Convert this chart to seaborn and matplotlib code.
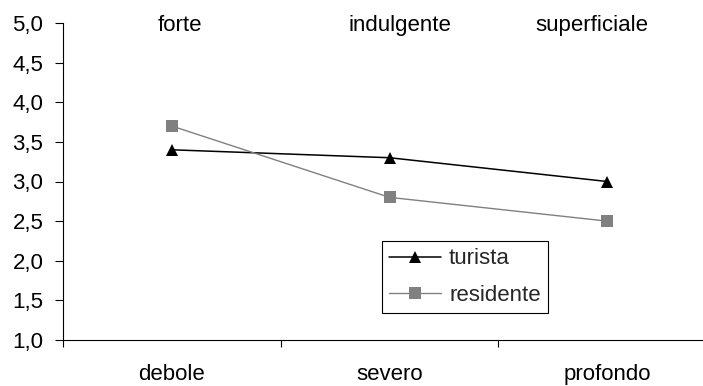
import matplotlib
matplotlib.use("Agg")
import matplotlib.pyplot as plt
import seaborn as sns
import pandas as pd
from matplotlib.ticker import FixedLocator, FuncFormatter

bottom_labels = ["debole", "severo", "profondo"]
top_labels = ["forte", "indulgente", "superficiale"]
turista = [3.4, 3.3, 3.0]
residente = [3.7, 2.8, 2.5]
y_ticks = [1.0, 1.5, 2.0, 2.5, 3.0, 3.5, 4.0, 4.5, 5.0]

sns.set_style("white")
plt.rcParams['font.family'] = ['Liberation Sans', 'DejaVu Sans']
FS = 16

fig = plt.figure(figsize=(7.03, 3.86), dpi=100)
ax = fig.add_axes([63/703, 1-340/386, 653/703, 317/386])

pos = list(range(len(bottom_labels)))
df_t = pd.DataFrame({"x": pos, "y": turista})
df_r = pd.DataFrame({"x": pos, "y": residente})

sns.lineplot(data=df_t, x="x", y="y", ax=ax, color="black", marker="^",
             markersize=8.8, markeredgewidth=0, linewidth=1.1, label="turista")
sns.lineplot(data=df_r, x="x", y="y", ax=ax, color="#808080", marker="s",
             markersize=8.8, markeredgewidth=0, linewidth=1.0, label="residente")

ax.set_xlim(-0.5, len(bottom_labels) - 0.5)
ax.set_ylim(1.0, 5.0)
ax.set_xlabel("")
ax.set_ylabel("")

ax.xaxis.set_major_locator(FixedLocator([p - 0.5 for p in pos]))
ax.xaxis.set_major_formatter(FuncFormatter(lambda v, p: ""))
ax.xaxis.set_minor_locator(FixedLocator(pos))
ax.set_xticklabels(bottom_labels, minor=True)
ax.tick_params(axis="x", which="major", direction="out", length=5, width=0.8,
               color="black", bottom=True)
ax.tick_params(axis="x", which="minor", length=0, pad=17.5, labelsize=FS,
               labelcolor="black")

ax.set_yticks(y_ticks)
ax.yaxis.set_major_formatter(FuncFormatter(lambda v, p: f"{v:.1f}".replace(".", ",")))
ax.tick_params(axis="y", direction="out", length=5.7, width=0.8, color="black",
               left=True, labelsize=FS, labelcolor="black", pad=8.5)

# top labels sit on the 5,0 line, slightly shifted as in the original text boxes
top_offsets = [0.035, 0.05, -0.07]
for p, off, lab in zip(pos, top_offsets, top_labels):
    ax.text(p + off, 5.0, lab, ha="center", va="center_baseline", fontsize=FS,
            color="black", clip_on=False)

for s in ["top", "right"]:
    ax.spines[s].set_visible(False)
for s in ["left", "bottom"]:
    ax.spines[s].set_color("black")
    ax.spines[s].set_linewidth(0.8)

leg = ax.legend(loc="lower left", bbox_to_anchor=(382/703, 1-313/386),
                bbox_transform=fig.transFigure, frameon=True, fancybox=False,
                handlelength=2.35, borderpad=0.32, labelspacing=0.7,
                handletextpad=0.35, fontsize=FS, borderaxespad=0)
leg.get_frame().set_edgecolor("black")
leg.get_frame().set_linewidth(0.8)
leg.get_frame().set_alpha(1)

fig.savefig("out.png", dpi=100)
